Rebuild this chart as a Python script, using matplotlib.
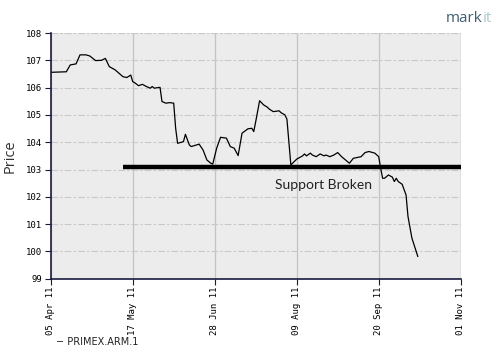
import matplotlib
matplotlib.use('Agg')
from matplotlib import pyplot as plt
import matplotlib.dates as mdates
import pandas as pd

# days after 05 Apr 2011
day_offsets = [0, 8, 10, 13, 15, 18, 20, 23, 26, 28, 30, 33, 37, 39, 41, 42,
               43, 45, 47, 49, 51, 52, 53, 56, 57, 59, 61, 63, 64, 65, 68, 69,
               71, 72, 76, 78, 80, 82, 83, 85, 87, 90, 92, 94, 96, 98, 101,
               103, 104, 105, 107, 109, 111, 112, 114, 117, 118, 119, 120,
               121, 123, 126, 129, 130, 131, 133, 134, 136, 138, 140, 141,
               143, 145, 147, 149, 153, 155, 157, 159, 161, 163, 166, 168,
               169, 170, 171, 173, 175, 176, 177, 178, 180, 182, 183, 185,
               188]
prices = [106.56, 106.58, 106.83, 106.87, 107.20, 107.20, 107.16, 106.99,
          107.00, 107.07, 106.77, 106.65, 106.40, 106.37, 106.46, 106.22,
          106.18, 106.07, 106.12, 106.04, 105.98, 106.04, 105.98, 106.01,
          105.49, 105.43, 105.45, 105.43, 104.51, 103.96, 104.02, 104.29,
          103.90, 103.84, 103.93, 103.72, 103.35, 103.23, 103.20, 103.78,
          104.18, 104.15, 103.84, 103.78, 103.51, 104.33, 104.49, 104.51,
          104.39, 104.75, 105.52, 105.37, 105.28, 105.21, 105.12, 105.15,
          105.08, 105.04, 105.00, 104.84, 103.17, 103.38, 103.50, 103.57,
          103.50, 103.60, 103.53, 103.47, 103.57, 103.50, 103.53, 103.47,
          103.53, 103.62, 103.47, 103.23, 103.41, 103.44, 103.47, 103.62,
          103.66, 103.60, 103.47, 103.05, 102.68, 102.68, 102.80, 102.72,
          102.56, 102.68, 102.56, 102.46, 102.07, 101.28, 100.49, 99.82]

tick_dates = ['2011-04-05', '2011-05-17', '2011-06-28', '2011-08-09',
              '2011-09-20', '2011-11-01']
y_ticks = [99, 100, 101, 102, 103, 104, 105, 106, 107, 108]
support_level = 103.08
support_start = '2011-05-12'
series_name = 'PRIMEX.ARM.1'


def main():
    start = pd.Timestamp('2011-04-05')
    dates = [start + pd.Timedelta(days=d) for d in day_offsets]
    ticks = pd.to_datetime(tick_dates)

    fig = plt.figure(figsize=(5, 3.6), dpi=100)
    ax = fig.add_axes([0.1014, 0.2258, 0.82, 0.6825])
    ax.set_facecolor('#ececec')

    ax.plot(dates, prices, color='black', lw=0.9)
    ax.hlines(support_level, pd.Timestamp(support_start), ticks[-1],
              color='black', lw=3.2, zorder=3)
    ax.text(start + pd.Timedelta(days=115), 102.44, 'Support Broken',
            fontsize=10, family='Lato', color='#222222', va='center')

    ax.set_xlim(ticks[0], ticks[-1])
    ax.set_ylim(99, 108)
    ax.set_xticks(ticks)
    ax.xaxis.set_major_formatter(mdates.DateFormatter('%d %b %y'))
    ax.set_yticks(y_ticks)
    for lab in ax.get_xticklabels():
        lab.set_rotation(90)
    ax.tick_params(labelsize=6.5, length=4, color='#1a1a40', pad=2)
    for lab in ax.get_xticklabels() + ax.get_yticklabels():
        lab.set_family('DejaVu Sans Mono')

    ax.grid(axis='y', color='#c8c8c8', lw=0.8, linestyle=(0, (6, 2, 2, 2)))
    ax.grid(axis='x', color='#c4c4c4', lw=0.9)
    ax.set_axisbelow(True)
    for side in ['top', 'right']:
        ax.spines[side].set_visible(False)
    for side in ['left', 'bottom']:
        ax.spines[side].set_color('#1a1a40')
        ax.spines[side].set_linewidth(1.2)
    ax.axhline(108, color='#c8c8c8', lw=0.8, linestyle=(0, (6, 2, 2, 2)))
    ax.axvline(ticks[-1], color='#c4c4c4', lw=0.9)

    ax.set_ylabel('Price', fontsize=10.5, family='Open Sans', color='#333333')
    ax.yaxis.set_label_coords(-0.08, 0.5)

    fig.text(0.112, 0.05, '\u2212 ' + series_name, fontsize=7,
             family='DejaVu Sans', color='#222222', va='center')
    mark = fig.text(0.892, 0.948, 'mark', fontsize=11, family='Open Sans',
                    color='#3f5f6e', va='center')
    ax.annotate('it', xy=(1, 0.5), xycoords=mark, va='center', ha='left',
                fontsize=11, family='Open Sans', color='#b0c8cc',
                annotation_clip=False)

    fig.savefig('out.png', dpi=100)


if __name__ == '__main__':
    main()
